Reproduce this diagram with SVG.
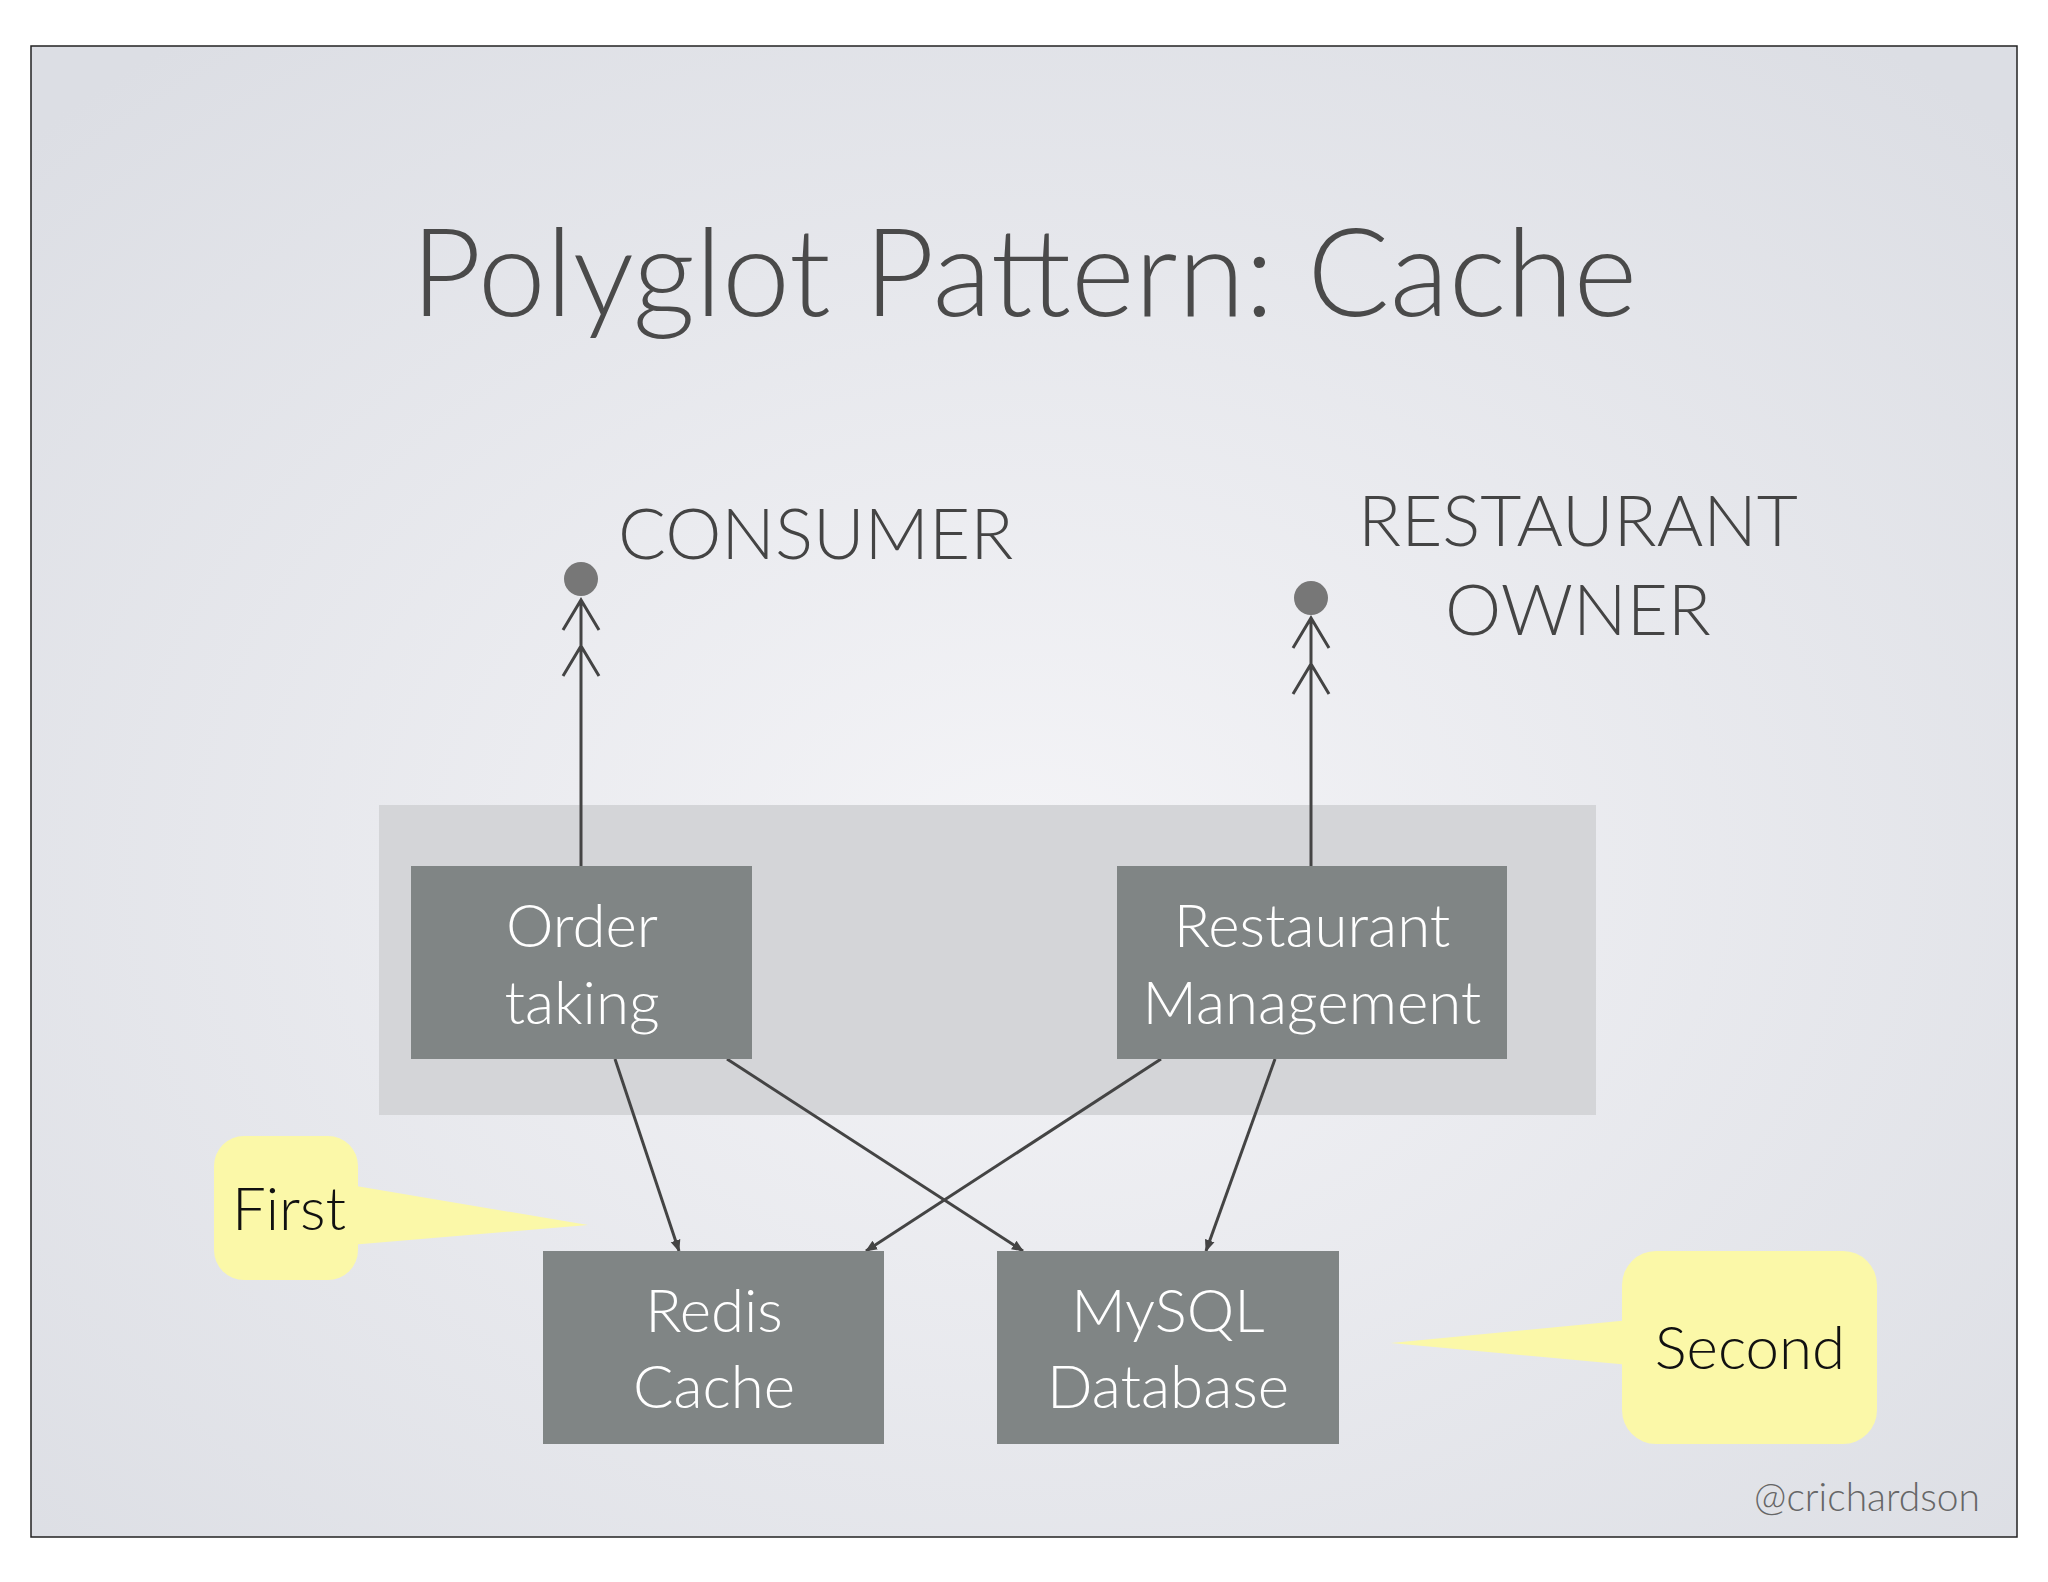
<svg xmlns="http://www.w3.org/2000/svg" width="2048" height="1582" viewBox="0 0 2048 1582">
<defs>
<radialGradient id="bg" cx="50%" cy="55%" r="70%"><stop offset="0" stop-color="#f4f4f7"/><stop offset="1" stop-color="#dcdee4"/></radialGradient>
<marker id="ah" markerWidth="12" markerHeight="12" refX="11" refY="6" orient="auto" markerUnits="userSpaceOnUse"><path d="M0,1 L12,6 L0,11 Z" fill="#444"/></marker>
</defs>
<style>
text{font-family:Lato,"Open Sans","Liberation Sans",sans-serif;font-weight:300}
.box{fill:#808585}
.bt{fill:#fff;font-size:60px;text-anchor:middle}
.lbl{fill:#444;font-size:71px}
.e{stroke:#444;stroke-width:3;fill:none}
.call{fill:#fbf8a8}
</style>
<rect width="2048" height="1582" fill="#fff"/>
<rect x="31" y="46" width="1986" height="1491" fill="url(#bg)" stroke="#222" stroke-width="1.5"/>
<text x="1024" y="316" font-size="122" fill="#4a4a4a" text-anchor="middle">Polyglot Pattern: Cache</text>
<rect x="379" y="805" width="1217" height="310" fill="#d4d5d8"/>
<g id="consumer"><circle cx="581" cy="579" r="17" fill="#777"/><text class="lbl" x="618" y="559">CONSUMER</text></g>
<g id="owner"><circle cx="1311" cy="598" r="17" fill="#777"/><text class="lbl" x="1578" y="546" text-anchor="middle">RESTAURANT</text><text class="lbl" x="1578" y="635" text-anchor="middle">OWNER</text></g>
<g id="edges">
<path class="e" d="M581,866 V600 M563,630 L581,600 L599,630 M563,676 L581,646 L599,676"/>
<path class="e" d="M1311,866 V618 M1293,648 L1311,618 L1329,648 M1293,694 L1311,664 L1329,694"/>
<line class="e" x1="615" y1="1059" x2="679" y2="1251" marker-end="url(#ah)"/>
<line class="e" x1="727" y1="1059" x2="1023" y2="1251" marker-end="url(#ah)"/>
<line class="e" x1="1161" y1="1059" x2="866" y2="1251" marker-end="url(#ah)"/>
<line class="e" x1="1275" y1="1059" x2="1206" y2="1251" marker-end="url(#ah)"/>
</g>
<g id="order"><rect class="box" x="411" y="866" width="341" height="193"/><text class="bt" x="582" y="947">Order</text><text class="bt" x="582" y="1024">taking</text></g>
<g id="restmgmt"><rect class="box" x="1117" y="866" width="390" height="193"/><text class="bt" x="1312" y="947">Restaurant</text><text class="bt" x="1312" y="1024">Management</text></g>
<g id="redis"><rect class="box" x="543" y="1251" width="341" height="193"/><text class="bt" x="714" y="1332">Redis</text><text class="bt" x="714" y="1408">Cache</text></g>
<g id="mysql"><rect class="box" x="997" y="1251" width="342" height="193"/><text class="bt" x="1168" y="1332">MySQL</text><text class="bt" x="1168" y="1408">Database</text></g>
<g id="first"><path class="call" d="M350,1185 L588,1225 L350,1245 Z"/><rect class="call" x="214" y="1136" width="144" height="144" rx="30"/><text x="232" y="1230" font-size="60" fill="#111">First</text></g>
<g id="second"><path class="call" d="M1630,1320 L1391,1343 L1630,1365 Z"/><rect class="call" x="1622" y="1251" width="255" height="193" rx="34"/><text x="1750" y="1369" font-size="60" fill="#111" text-anchor="middle">Second</text></g>
<text x="1980" y="1511" font-size="39" fill="#666" text-anchor="end">@crichardson</text>
</svg>
